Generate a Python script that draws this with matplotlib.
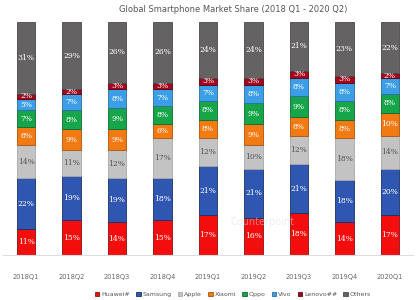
import matplotlib
matplotlib.use("Agg")
import matplotlib.pyplot as plt
import numpy as np

# datos (cuota de mercado, %)
quarters = ["2018Q1", "2018Q2", "2018Q3", "2018Q4", "2019Q1",
            "2019Q2", "2019Q3", "2019Q4", "2020Q1"]
huawei = [11, 15, 14, 15, 17, 16, 18, 14, 17]
samsung = [22, 19, 19, 18, 21, 21, 21, 18, 20]
apple = [14, 11, 12, 17, 12, 10, 12, 18, 14]
xiaomi = [8, 9, 9, 6, 8, 9, 8, 8, 10]
oppo = [7, 8, 9, 8, 8, 9, 9, 8, 8]
vivo = [5, 7, 8, 7, 7, 8, 8, 8, 7]
lenovo = [2, 2, 3, 3, 3, 3, 3, 3, 2]
others = [31, 29, 26, 26, 24, 24, 21, 23, 22]

labels = ["Huawei#", "Samsung", "Apple", "Xiaomi", "Oppo", "Vivo", "Lenovo##", "Others"]
series = [huawei, samsung, apple, xiaomi, oppo, vivo, lenovo, others]
colors = ["#f40d0d", "#2f56b0", "#c3c3c3", "#f27a12", "#17a54a",
          "#3b9ee6", "#a3061c", "#646262"]
edges = ["#8a1010", "#1d2f66", "#a9a9a9", "#a8550c", "#0f6b31",
         "#2a6fa3", "#5a0410", "#4a4848"]
txt_col = ["white", "white", "#555555", "white", "white", "white", "white", "white"]

fig = plt.figure(figsize=(4.16, 3.0), dpi=100)
ax = fig.add_axes([0.008, 0.15, 0.984, 0.777])

x = np.arange(len(quarters))
bottom = np.zeros(len(quarters))
for vals, lab, c, ec, tc in zip(series, labels, colors, edges, txt_col):
    vals = np.array(vals)
    ax.bar(x, vals, 0.4, bottom=bottom, color=c, edgecolor=ec, linewidth=0.6, label=lab)
    for xi, b, v in zip(x, bottom, vals):
        ax.text(xi, b + v / 2, f"{v}%", ha="center", va="center",
                fontsize=5.5, color=tc, family="DejaVu Serif")
    bottom += vals

ax.text(5.2, 14, "Counterpoint", fontsize=7, color="#dddddd", alpha=0.5,
        ha="center", va="center")

ax.set_xlim(-0.5, 8.5)
ax.set_ylim(0, 100)
ax.set_xticks(x)
ax.set_xticklabels(quarters, fontsize=4.8, color="#666666")
ax.tick_params(axis="x", length=0, pad=14)
ax.set_yticks([])
for s in ["top", "right", "left"]:
    ax.spines[s].set_visible(False)
ax.spines["bottom"].set_color("#dddddd")
ax.spines["bottom"].set_linewidth(0.8)

fig.suptitle("Global Smartphone Market Share (2018 Q1 - 2020 Q2)",
             x=0.56, y=0.985, fontsize=6, color="#555555")

fig.legend(loc="lower center", bbox_to_anchor=(0.56, -0.01), ncol=8,
           fontsize=4.5, frameon=False, handlelength=0.7, handleheight=0.7,
           handletextpad=0.3, columnspacing=1.0, labelcolor="#555555")

fig.savefig("out.png", dpi=100)
